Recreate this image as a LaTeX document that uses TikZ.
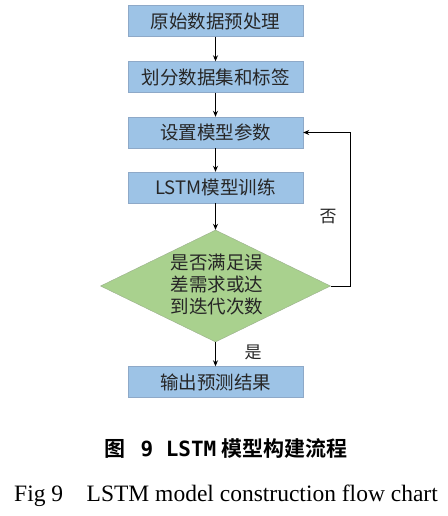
\documentclass[tikz,border=0pt]{standalone}
\usepackage{fontspec}
\setmainfont{Liberation Serif}
\newfontfamily\cjk{Noto Sans CJK SC}
\newfontfamily\cjkb{Noto Sans CJK SC}[BoldFont={* Bold}]
\newfontfamily\capmono{DejaVu Sans Mono}
\usetikzlibrary{shapes.geometric,arrows.meta}
\definecolor{boxblue}{HTML}{9DC3E6}
\definecolor{boxedge}{HTML}{8EA9C8}
\definecolor{dgreen}{HTML}{A9D18E}
\definecolor{dedge}{HTML}{9AAF8C}
\tikzset{
  x=1pt,y=-1pt,
  procbox/.style={draw=boxedge,fill=boxblue,minimum width=175pt,minimum height=31pt,inner sep=0pt,font=\cjk\fontsize{18.5}{20}\selectfont,text=black!85},
  decbox/.style={draw=dedge,fill=dgreen,diamond,minimum width=230pt,minimum height=112pt,inner sep=0pt,aspect=2.05},
  conn/.style={draw=black,line width=0.9pt,-{Stealth[length=6pt,width=5pt]}},
  lbl/.style={font=\cjk\fontsize{17}{18}\selectfont,text=black!85}
}
\begin{document}
\begin{tikzpicture}
\useasboundingbox (0,0) rectangle (447,516);
\fill[white] (0,0) rectangle (447,516);
\node[procbox] (b1) at (215.5,21) {原始数据预处理};
\node[procbox] (b2) at (215.5,77) {划分数据集和标签};
\node[procbox] (b3) at (215.5,132.5) {设置模型参数};
\node[procbox] (b4) at (215.5,187.5) {LSTM模型训练};
\node[decbox] (d) at (215.5,286) {};
\node[font=\cjk\fontsize{18.5}{22}\selectfont,align=center,text=black!85] (dt) at (217,285) {是否满足误\\差需求或达\\到迭代次数};
\node[procbox] (b5) at (215.5,382) {输出预测结果};
\coordinate (c1) at (350,286);
\coordinate (c2) at (350,132.5);
\draw[conn] (b1) -- (b2);
\draw[conn] (b2) -- (b3);
\draw[conn] (b3) -- (b4);
\draw[conn] (b4) -- (d.north);
\draw[conn] (d.south) -- (b5);
\draw[conn] (d.east) -- (c1) -- (c2) -- (b3.east);
\node[lbl] (no) at (328,217) {否};
\node[lbl] (yes) at (253,352) {是};
\node[font=\cjkb\bfseries\fontsize{21}{24}\selectfont] (cap1) at (226,449) {图\hspace{0.7em}{\capmono\bfseries 9 LSTM} 模型构建流程};
\node[font=\fontsize{23.5}{26}\selectfont] (cap2) at (226,496) {Fig 9\hspace{1em}LSTM model construction flow chart};
\end{tikzpicture}
\end{document}
